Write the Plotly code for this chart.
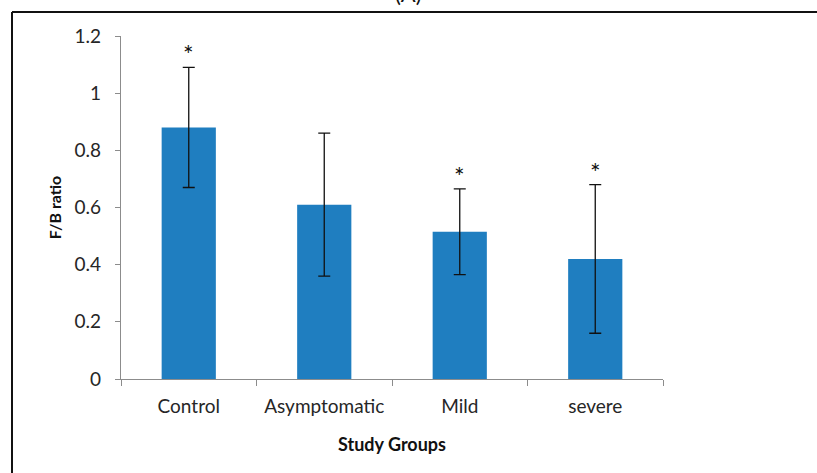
import plotly.graph_objects as go

# Study groups and F/B ratio (mean ± SD)
groups = ["Control", "Asymptomatic", "Mild", "severe"]
fb_ratio = [0.88, 0.61, 0.515, 0.42]
fb_sd = [0.21, 0.25, 0.15, 0.26]
significant = [True, False, True, True]

y_ticks = [0, 0.2, 0.4, 0.6, 0.8, 1, 1.2]
y_tick_text = ["0", "0.2", "0.4", "0.6", "0.8", "1", "1.2"]

W, H = 817, 473
ML, MR, MT, MB = 121, 154, 36, 94
PW, PH = W - ML - MR, H - MT - MB


def px(x):
    return (x - ML) / PW


def py(y):
    return 1 - (y - MT) / PH


FONT = "Lato, 'Open Sans', sans-serif"
BAR_COLOR = "#1f7ec0"
AXIS_COLOR = "#8c8c8c"

fig = go.Figure(
    go.Bar(
        x=groups,
        y=fb_ratio,
        width=0.4,
        marker=dict(color=BAR_COLOR, line=dict(width=0)),
        error_y=dict(type="data", array=fb_sd, visible=True,
                     color="#111111", thickness=1.3, width=6),
    )
)

# significance markers above the error bars
for g, v, e, s in zip(groups, fb_ratio, fb_sd, significant):
    if s:
        fig.add_annotation(x=g, y=v + e, text="*", showarrow=False,
                           yanchor="bottom", yshift=-4,
                           font=dict(family=FONT, size=25, color="#111111"))

# panel label at the top, partly cropped by the frame edge
fig.add_annotation(x=px(408), y=py(9), xref="paper", yref="paper",
                   text="(A)", showarrow=False, yanchor="bottom",
                   font=dict(family=FONT, size=22, color="#111111"))

# frame lines
fig.add_shape(type="line", xref="paper", yref="paper",
              x0=px(12), x1=px(12), y0=py(12), y1=py(490),
              line=dict(color="#111111", width=2))
fig.add_shape(type="line", xref="paper", yref="paper",
              x0=px(12), x1=px(830), y0=py(12), y1=py(12),
              line=dict(color="#111111", width=2))

fig.update_layout(
    width=W, height=H,
    margin=dict(l=ML, r=MR, t=MT, b=MB, autoexpand=False),
    paper_bgcolor="white", plot_bgcolor="white",
    showlegend=False,
    font=dict(family=FONT, size=19, color="#262626"),
    xaxis=dict(
        showline=True, linecolor=AXIS_COLOR, linewidth=1.3,
        ticks="outside", tickson="boundaries", ticklen=6,
        tickcolor=AXIS_COLOR, showgrid=False,
        ticklabelstandoff=10,
        tickfont=dict(family=FONT, size=19, color="#262626"),
        title=dict(text="<b>Study Groups</b>", standoff=22,
                   font=dict(family=FONT, size=18, color="#111111")),
    ),
    yaxis=dict(
        range=[0, 1.2], tickvals=y_ticks, ticktext=y_tick_text,
        showline=True, linecolor=AXIS_COLOR, linewidth=1.3,
        ticks="outside", ticklen=5, tickcolor=AXIS_COLOR,
        showgrid=False, zeroline=False,
        ticklabelstandoff=10,
        tickfont=dict(family=FONT, size=19, color="#262626"),
        title=dict(text="<b>F/B ratio</b>", standoff=8,
                   font=dict(family=FONT, size=16, color="#111111")),
    ),
)

fig.write_html("out.html")
